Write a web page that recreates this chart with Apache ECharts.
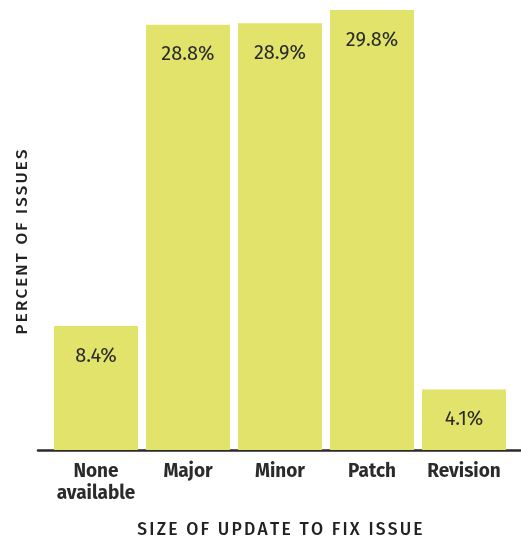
<!DOCTYPE html>
<html>
<head>
<meta charset="utf-8">
<script src="https://cdn.jsdelivr.net/npm/echarts@6/dist/echarts.min.js"></script>
<style>
  html, body { margin: 0; padding: 0; background: #ffffff; }
  #chart { width: 521px; height: 541px; }
</style>
</head>
<body>
<div id="chart"></div>
<script>
// Share of issues by the size of update that fixes them
const categories = ['None\navailable', 'Major', 'Minor', 'Patch', 'Revision'];
const percentValues = [8.4, 28.8, 28.9, 29.8, 4.1];
const xAxisTitle = 'SIZE OF UPDATE TO FIX ISSUE';
const yAxisTitle = 'PERCENT OF ISSUES';

const BAR_COLOR = '#e1e36b';
const TEXT_COLOR = '#2b2b2b';
const FONT = '"Fira Sans", "Open Sans", "Noto Sans", sans-serif';

// Tracked caps: put two hair spaces between letters
const spaced = s => Array.from(s).join('\u200A\u200A');

const chart = echarts.init(document.getElementById('chart'), null, { renderer: 'canvas' });

chart.setOption({
  animation: false,
  backgroundColor: '#ffffff',
  grid: [
    // bars
    { left: 50, right: 11, top: 7, bottom: 91, containLabel: false, outerBoundsMode: 'none' },
    // baseline rule spanning the full plot width
    { left: 38, right: 0, top: 7, bottom: 91, containLabel: false, outerBoundsMode: 'none' }
  ],
  xAxis: [
    {
      type: 'category',
      gridIndex: 0,
      data: categories,
      axisLine: { show: false },
      axisTick: { show: false },
      axisLabel: {
        color: TEXT_COLOR,
        fontFamily: FONT,
        fontSize: 19,
        fontWeight: 'bold',
        lineHeight: 22,
        margin: 11,
        interval: 0
      },
      name: spaced(xAxisTitle),
      nameLocation: 'middle',
      nameGap: 71,
      nameTextStyle: {
        color: '#222222',
        fontFamily: FONT,
        fontSize: 17.5,
        fontWeight: 500
      }
    },
    {
      type: 'value',
      gridIndex: 1,
      min: 0,
      max: 1,
      axisLine: { show: true, onZero: false, lineStyle: { color: '#2b2b2b', width: 2.5 } },
      axisTick: { show: false },
      axisLabel: { show: false },
      splitLine: { show: false }
    }
  ],
  yAxis: [
    {
      type: 'value',
      gridIndex: 0,
      min: 0,
      max: 30,
      show: false,
      splitLine: { show: false }
    },
    {
      type: 'value',
      gridIndex: 1,
      min: 0,
      max: 1,
      show: false
    }
  ],
  graphic: [
    {
      type: 'text',
      x: 22,
      y: 242,
      rotation: Math.PI / 2,
      style: {
        text: spaced(yAxisTitle),
        fill: '#222222',
        font: '500 17px ' + FONT,
        align: 'center',
        verticalAlign: 'middle'
      }
    }
  ],
  series: [
    {
      type: 'bar',
      xAxisIndex: 0,
      yAxisIndex: 0,
      data: percentValues,
      barCategoryGap: '8.7%',
      itemStyle: { color: BAR_COLOR },
      label: {
        show: true,
        position: 'insideTop',
        distance: 20,
        color: TEXT_COLOR,
        fontFamily: FONT,
        fontSize: 20,
        formatter: p => p.value.toFixed(1) + '%'
      }
    }
  ]
});
</script>
</body>
</html>
